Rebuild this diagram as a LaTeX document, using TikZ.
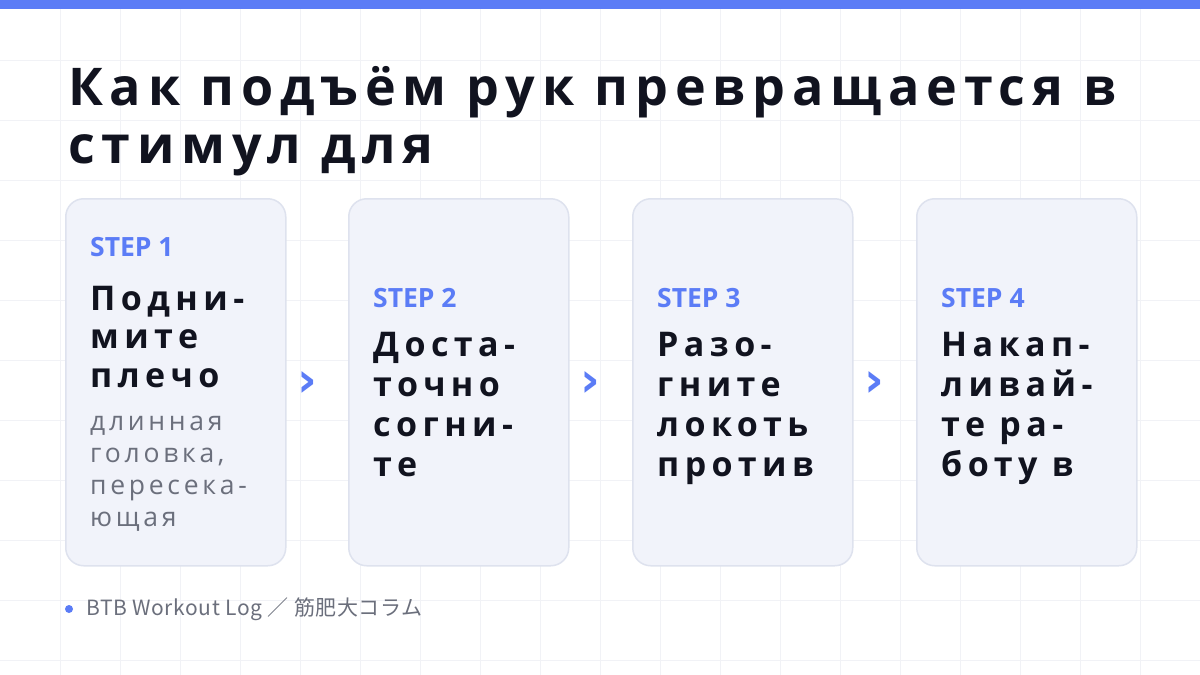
\documentclass[tikz,border=0pt]{standalone}
\usepackage{fontspec}
\setmainfont{Open Sans}
\newfontfamily\titlefont[LetterSpace=13]{Open Sans}
\newfontfamily\cardfont[LetterSpace=16]{Open Sans}
\newfontfamily\notefont[LetterSpace=14]{Open Sans}
\newfontfamily\footfont[LetterSpace=3]{Noto Sans CJK JP}
\newfontfamily\symfont{DejaVu Sans}
\usetikzlibrary{positioning,calc}

\definecolor{barblue}{HTML}{5B7CF6}
\definecolor{ink}{HTML}{11131F}
\definecolor{cardfill}{HTML}{F1F3FA}
\definecolor{cardline}{HTML}{DEE2EE}
\definecolor{notegray}{HTML}{6B6F7C}
\definecolor{gridline}{HTML}{F1F2F6}

\tikzset{
	card/.style={draw=cardline, fill=cardfill, line width=1.5pt, rounded corners=18pt,
		minimum width=220pt, minimum height=367pt, inner sep=0pt, anchor=north west},
	steplabel/.style={anchor=base west, inner sep=0pt, text=barblue,
		font=\bfseries\fontsize{26.5}{30}\selectfont},
	steptitle/.style={anchor=base west, inner sep=0pt, align=left, text=ink,
		font=\cardfont\bfseries\fontsize{34}{40}\selectfont},
	stepnote/.style={anchor=base west, inner sep=0pt, align=left, text=notegray,
		font=\notefont\fontsize{26.5}{32}\selectfont},
	chev/.style={inner sep=0pt, text=barblue, font=\symfont\bfseries\fontsize{48}{48}\selectfont}
}

\begin{document}
\begin{tikzpicture}[x=1pt,y=-1pt]
	% page and background grid
	\useasboundingbox[fill=white] (0,0) rectangle (1200,675);
	\foreach \gx in {60,120,...,1140} \draw[gridline] (\gx,9) -- (\gx,675);
	\foreach \gy in {60,120,...,660} \draw[gridline] (0,\gy) -- (1200,\gy);
	\fill[barblue] (0,0) rectangle (1200,9);

	% title (base anchor sits on the last line)
	\node[anchor=base west, inner sep=0pt, align=left, text=ink,
		font=\titlefont\bfseries\fontsize{52}{58}\selectfont] (title) at (68,163)
		{Как подъём рук превращается в\\стимул для};

	% cards
	\foreach \i/\cx in {1/65,2/348,3/632,4/916}
		\node[card] (c\i) at (\cx,198) {};

	\node[steplabel] (s1) at ($(c1.north west)+(25,58)$) {STEP 1};
	\node[steptitle, font=\cardfont\bfseries\fontsize{34}{38.5}\selectfont] (t1) at ($(c1.north west)+(25,189)$) {Подни-\\мите\\плечо};
	\node[stepnote] (n1) at ($(c1.north west)+(25,328)$) {длинная\\головка,\\пересека-\\ющая};

	\node[steplabel] (s2) at ($(c2.north west)+(25,109)$) {STEP 2};
	\node[steptitle] (t2) at ($(c2.north west)+(25,278)$) {Доста-\\точно\\согни-\\те};

	\node[steplabel] (s3) at ($(c3.north west)+(25,109)$) {STEP 3};
	\node[steptitle] (t3) at ($(c3.north west)+(25,278)$) {Разо-\\гните\\локоть\\против};

	\node[steplabel] (s4) at ($(c4.north west)+(25,109)$) {STEP 4};
	\node[steptitle] (t4) at ($(c4.north west)+(25,278)$) {Накап-\\ливай-\\те ра-\\боту в};

	% chevrons between cards
	\node[chev] (a1) at ($(c1.east)+(21,2)$) {›};
	\node[chev] (a2) at ($(c2.east)+(21,2)$) {›};
	\node[chev] (a3) at ($(c3.east)+(21,2)$) {›};

	% footer
	\node[circle, fill=barblue, minimum size=8pt, inner sep=0pt] (dot) at (69,609) {};
	\node[anchor=base west, inner sep=0pt, text=notegray,
		font=\footfont\fontsize{21}{24}\selectfont] (foot) at (86,615)
		{BTB Workout Log ／ 筋肥大コラム};
\end{tikzpicture}
\end{document}
